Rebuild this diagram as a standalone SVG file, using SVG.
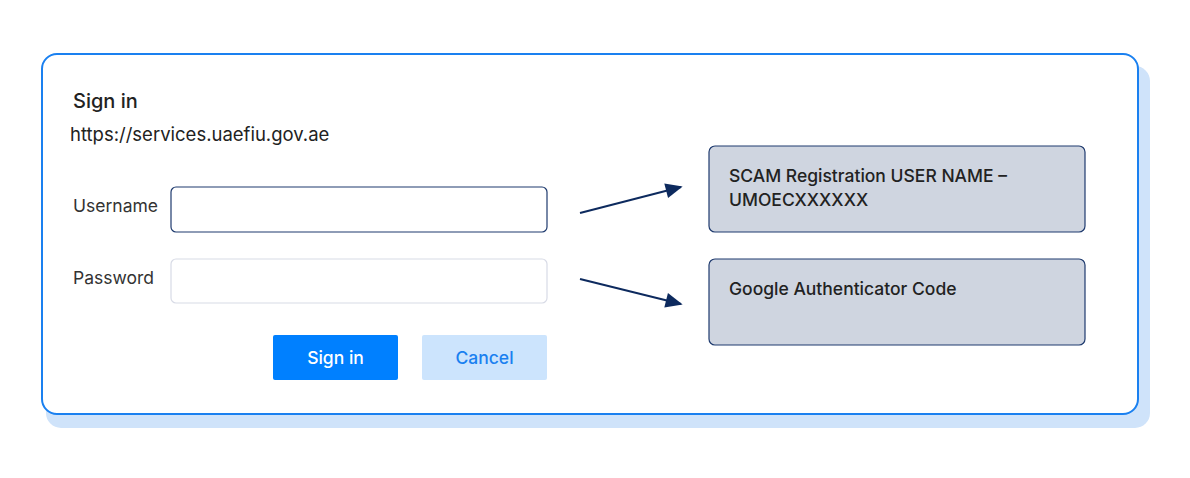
<svg xmlns="http://www.w3.org/2000/svg" width="1190" height="478" viewBox="0 0 1190 478">
<style>
text{font-family:Inter,"Liberation Sans",sans-serif;fill:#222}
.lbl{font-size:17.5px;fill:#333}
.note{fill:#cfd5e0;stroke:#1e3a6e;stroke-width:1.2}
.conn{stroke:#0d2a5e;stroke-width:2;fill:none}
</style>
<defs>
<marker id="ah" viewBox="0 0 10 10" refX="9" refY="5" markerWidth="17" markerHeight="15" orient="auto" markerUnits="userSpaceOnUse" preserveAspectRatio="none" style="overflow:visible">
<path d="M0,0 L10,5 L0,10 z" fill="#0d2a5e"/>
</marker>
</defs>
<rect width="1190" height="478" fill="#fff"/>
<g id="card">
<rect x="46" y="66" width="1104" height="362" rx="15" fill="#cfe3fa"/>
<rect x="42" y="54" width="1096" height="360" rx="15" fill="#fff" stroke="#1a80f0" stroke-width="2"/>
<text x="73" y="108" font-size="20" font-weight="500">Sign in</text>
<text x="70" y="141" font-size="18.5">https://services.uaefiu.gov.ae</text>
</g>
<g id="username">
<text class="lbl" x="73" y="212">Username</text>
<rect x="171" y="187" width="376" height="45" rx="5" fill="#fff" stroke="#1e3a6e" stroke-width="1.2"/>
</g>
<g id="password">
<text class="lbl" x="73" y="284">Password</text>
<rect x="171" y="259" width="376" height="44" rx="5" fill="#fff" stroke="#d8dbe6" stroke-width="1.2"/>
</g>
<g id="signin">
<rect x="273" y="335" width="125" height="45" rx="2" fill="#0080ff"/>
<text x="335.5" y="364" font-size="17.5" font-weight="500" text-anchor="middle" style="fill:#fff">Sign in</text>
</g>
<g id="cancel">
<rect x="422" y="335" width="125" height="45" rx="2" fill="#cce4fd"/>
<text x="484.5" y="364" font-size="17.5" font-weight="500" text-anchor="middle" style="fill:#1a80f0">Cancel</text>
</g>
<g id="note-user">
<rect class="note" x="709" y="146" width="376" height="86" rx="6"/>
<text x="729" y="182" font-size="17.5" font-weight="500">SCAM Registration USER NAME –</text>
<text x="729" y="206" font-size="17.5" font-weight="500">UMOECXXXXXX</text>
</g>
<g id="note-code">
<rect class="note" x="709" y="259" width="376" height="86" rx="6"/>
<text x="729" y="295" font-size="17.5" font-weight="500">Google Authenticator Code</text>
</g>
<g id="connectors">
<line class="conn" x1="580" y1="213" x2="681" y2="187" marker-end="url(#ah)"/>
<line class="conn" x1="580" y1="279" x2="681" y2="304" marker-end="url(#ah)"/>
</g>
</svg>
